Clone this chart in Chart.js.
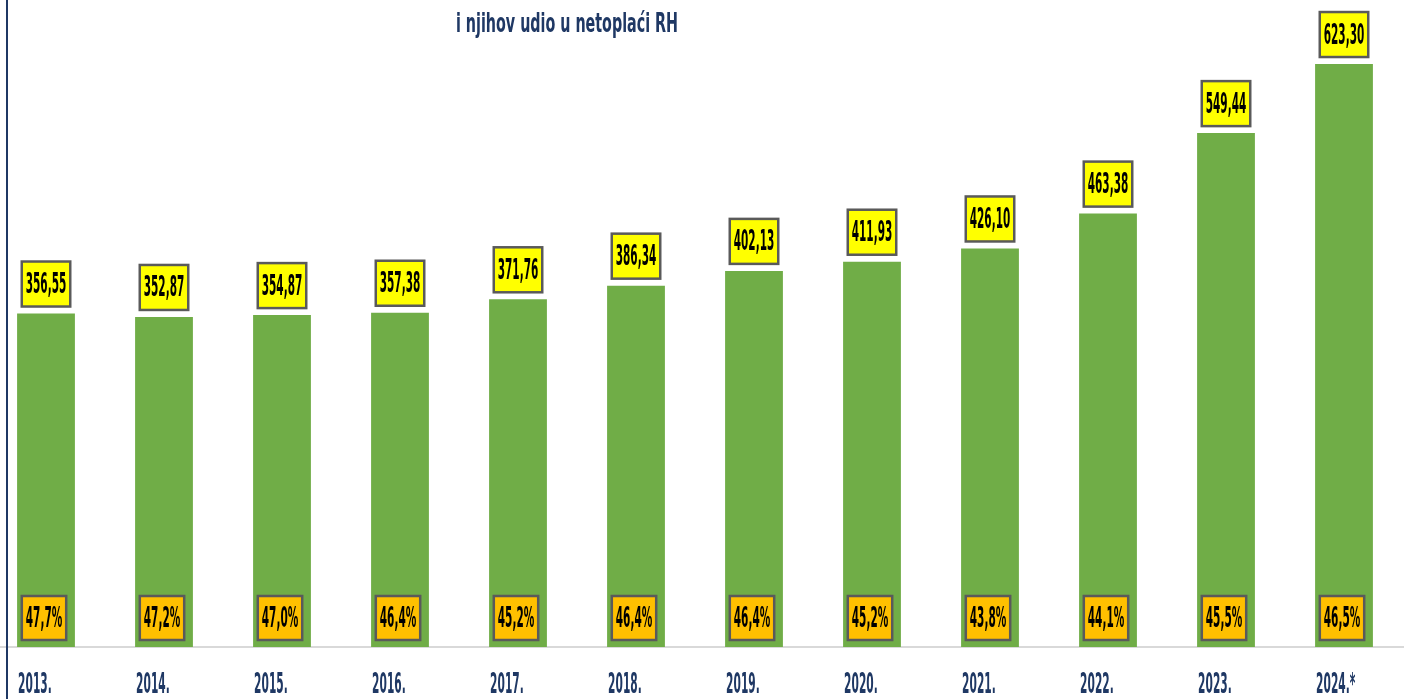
<!DOCTYPE html>
<html>
<head>
<meta charset="utf-8">
<script src="https://cdn.jsdelivr.net/npm/chart.js@4.4.1/dist/chart.umd.min.js"></script>
<style>
  html, body { margin: 0; padding: 0; background: #fff; overflow: hidden; }
  #wrap { position: absolute; left: -13px; top: 0; width: 1439px; height: 699px; }
  #edge { position: absolute; left: 6px; top: 0; width: 2px; height: 699px; background: #1F3864; }
</style>
</head>
<body>
<div id="wrap"><canvas id="chart" width="1439" height="699"></canvas></div>
<div id="edge"></div>
<script>
const years = ['2013.', '2014.', '2015.', '2016.', '2017.', '2018.', '2019.', '2020.', '2021.', '2022.', '2023.', '2024.*'];
const amounts = [356.55, 352.87, 354.87, 357.38, 371.76, 386.34, 402.13, 411.93, 426.10, 463.38, 549.44, 623.30];
const shares = [47.7, 47.2, 47.0, 46.4, 45.2, 46.4, 46.4, 45.2, 43.8, 44.1, 45.5, 46.5];
const titleText = 'i njihov udio u netoplaći RH';

const FONT = '"Liberation Sans Narrow", "DejaVu Sans Condensed", "Liberation Sans", sans-serif';

// draws text squeezed horizontally so the digits get a given width
function squish(ctx, text, x, y, size, color, digitW, align) {
    ctx.font = 'bold ' + size + 'px ' + FONT;
    const sx = digitW / ctx.measureText('0').width;
    const w = ctx.measureText(text).width * sx;
    ctx.save();
    ctx.translate(x, y);
    ctx.scale(sx, 1);
    ctx.fillStyle = color;
    ctx.textAlign = 'left';
    ctx.textBaseline = 'middle';
    ctx.fillText(text, align === 'center' ? -w / 2 / sx : 0, 0);
    ctx.restore();
    return w;
}

function measureSquish(ctx, text, size, digitW) {
    ctx.font = 'bold ' + size + 'px ' + FONT;
    const sx = digitW / ctx.measureText('0').width;
    return ctx.measureText(text).width * sx;
}

function box(ctx, cx, top, w, h, fill) {
    ctx.save();
    ctx.fillStyle = fill;
    ctx.fillRect(cx - w / 2, top, w, h);
    ctx.strokeStyle = '#5A5A5A';
    ctx.lineWidth = 2.5;
    ctx.strokeRect(cx - w / 2, top, w, h);
    ctx.restore();
}

const labelsPlugin = {
    id: 'labels',
    afterDatasetsDraw(chart) {
        const ctx = chart.ctx;
        const meta = chart.getDatasetMeta(0);
        const base = chart.scales.y.getPixelForValue(0);

        meta.data.forEach((bar, i) => {
            // value box above the bar
            const vTxt = amounts[i].toFixed(2).replace('.', ',');
            const vw = measureSquish(ctx, vTxt, 29, 7.3) + 8;
            box(ctx, bar.x, bar.y - 7 - 45, vw, 45, '#FFFF00');
            squish(ctx, vTxt, bar.x, bar.y - 7 - 21, 29, '#000', 7.3, 'center');

            // share box at the bottom of the bar
            const sTxt = shares[i].toFixed(1).replace('.', ',') + '%';
            const sw = measureSquish(ctx, sTxt, 29, 7.3) + 8;
            box(ctx, bar.x - 2, base - 51, sw, 44, '#FFC000');
            squish(ctx, sTxt, bar.x - 2, base - 28, 29, '#000', 7.3, 'center');

            // year label under the axis
            squish(ctx, years[i], bar.x - bar.width / 2 + 1, base + 39, 28, '#1F3864', 7.4, 'left');
        });

        // title
        ctx.font = 'bold 27px ' + FONT;
        const tw = ctx.measureText(titleText).width;
        ctx.save();
        ctx.translate(567 + 13, 25);
        ctx.scale(222 / tw, 1);
        ctx.fillStyle = '#1F3864';
        ctx.textAlign = 'center';
        ctx.textBaseline = 'middle';
        ctx.fillText(titleText, 0, 0);
        ctx.restore();
    }
};

new Chart(document.getElementById('chart').getContext('2d'), {
    type: 'bar',
    data: {
        labels: years,
        datasets: [{
            data: amounts,
            backgroundColor: '#70AD47',
            barPercentage: 0.49,
            categoryPercentage: 1
        }]
    },
    options: {
        responsive: false,
        animation: false,
        devicePixelRatio: 1,
        layout: { padding: { left: 0, right: 23, top: 11, bottom: 44 } },
        scales: {
            x: {
                grid: { display: false },
                ticks: { display: false },
                border: { display: true, color: '#D9D9D9', width: 2 }
            },
            y: { display: false, min: 0, max: 680 }
        },
        plugins: {
            legend: { display: false },
            tooltip: { enabled: false }
        }
    },
    plugins: [labelsPlugin]
});
</script>
</body>
</html>
